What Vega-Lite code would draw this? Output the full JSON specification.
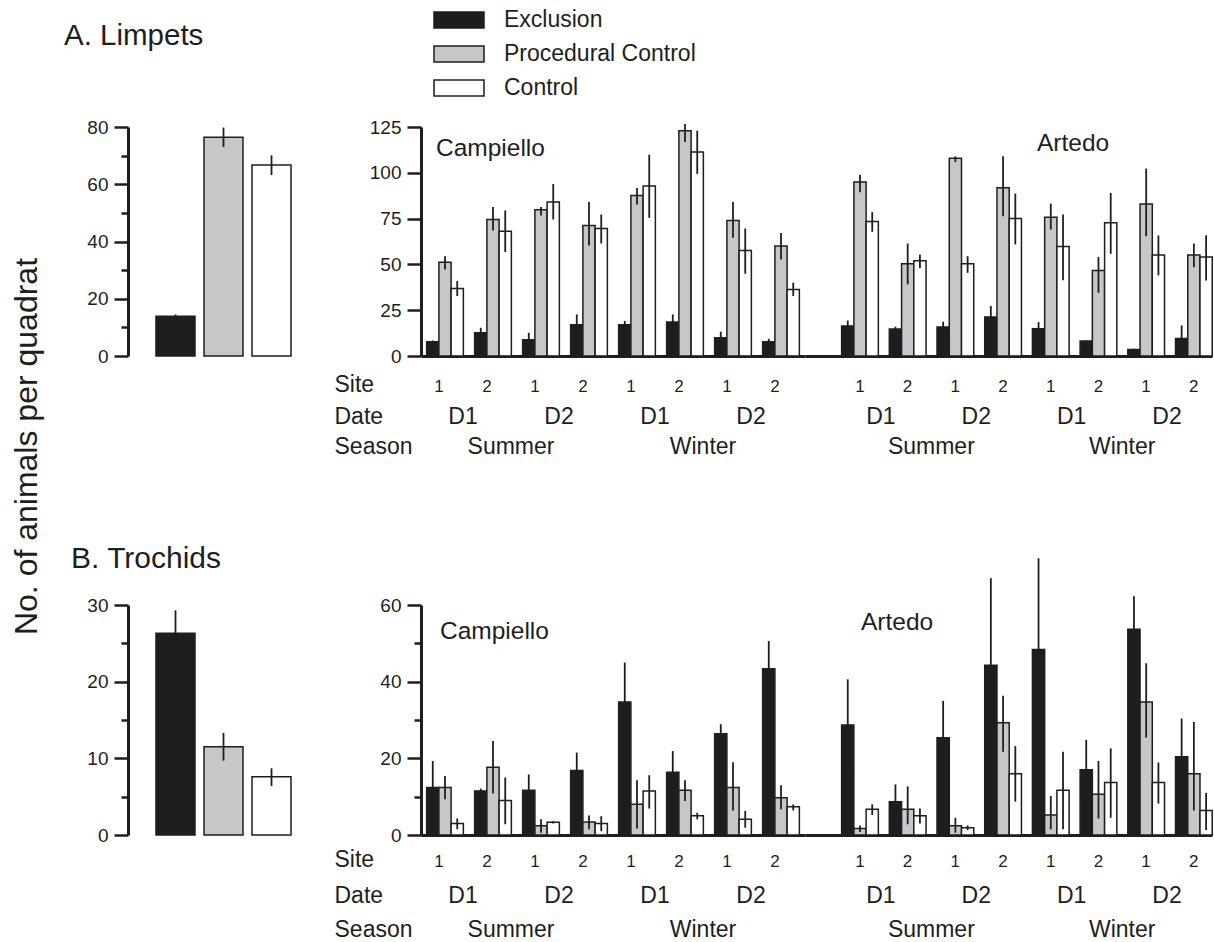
{
  "$schema": "https://vega.github.io/schema/vega-lite/v6.json",
  "background": "white",
  "padding": {"left": 10, "top": 8, "right": 5, "bottom": 0},
  "datasets": {
    "d": [
      {"taxon":"Limpets","loc":"Overall","grp":"all","treat":"Exclusion","mean":13.9,"lo":13.3,"hi":14.5},
      {"taxon":"Limpets","loc":"Overall","grp":"all","treat":"Procedural Control","mean":76.4,"lo":73.0,"hi":79.8},
      {"taxon":"Limpets","loc":"Overall","grp":"all","treat":"Control","mean":66.7,"lo":63.2,"hi":70.1},
      {"taxon":"Trochids","loc":"Overall","grp":"all","treat":"Exclusion","mean":26.3,"lo":23.3,"hi":29.3},
      {"taxon":"Trochids","loc":"Overall","grp":"all","treat":"Procedural Control","mean":11.5,"lo":9.7,"hi":13.3},
      {"taxon":"Trochids","loc":"Overall","grp":"all","treat":"Control","mean":7.6,"lo":6.4,"hi":8.7},

      {"taxon":"Limpets","loc":"Campiello","grp":"Summer-D1-1","treat":"Exclusion","mean":7.8,"lo":7.1,"hi":8.5},
      {"taxon":"Limpets","loc":"Campiello","grp":"Summer-D1-1","treat":"Procedural Control","mean":51.2,"lo":47.2,"hi":54.5},
      {"taxon":"Limpets","loc":"Campiello","grp":"Summer-D1-1","treat":"Control","mean":36.9,"lo":32.7,"hi":40.9},
      {"taxon":"Limpets","loc":"Campiello","grp":"Summer-D1-2","treat":"Exclusion","mean":12.7,"lo":10.0,"hi":15.4},
      {"taxon":"Limpets","loc":"Campiello","grp":"Summer-D1-2","treat":"Procedural Control","mean":74.5,"lo":68.5,"hi":81.4},
      {"taxon":"Limpets","loc":"Campiello","grp":"Summer-D1-2","treat":"Control","mean":68.1,"lo":56.7,"hi":79.4},
      {"taxon":"Limpets","loc":"Campiello","grp":"Summer-D2-1","treat":"Exclusion","mean":8.9,"lo":5.1,"hi":12.7},
      {"taxon":"Limpets","loc":"Campiello","grp":"Summer-D2-1","treat":"Procedural Control","mean":79.8,"lo":76.7,"hi":81.4},
      {"taxon":"Limpets","loc":"Campiello","grp":"Summer-D2-1","treat":"Control","mean":84.1,"lo":74.5,"hi":93.9},
      {"taxon":"Limpets","loc":"Campiello","grp":"Summer-D2-2","treat":"Exclusion","mean":17.1,"lo":11.5,"hi":22.7},
      {"taxon":"Limpets","loc":"Campiello","grp":"Summer-D2-2","treat":"Procedural Control","mean":71.2,"lo":60.3,"hi":84.1},
      {"taxon":"Limpets","loc":"Campiello","grp":"Summer-D2-2","treat":"Control","mean":69.6,"lo":61.4,"hi":77.2},
      {"taxon":"Limpets","loc":"Campiello","grp":"Winter-D1-1","treat":"Exclusion","mean":17.1,"lo":15.1,"hi":19.1},
      {"taxon":"Limpets","loc":"Campiello","grp":"Winter-D1-1","treat":"Procedural Control","mean":87.6,"lo":82.7,"hi":91.7},
      {"taxon":"Limpets","loc":"Campiello","grp":"Winter-D1-1","treat":"Control","mean":92.8,"lo":75.4,"hi":109.9},
      {"taxon":"Limpets","loc":"Campiello","grp":"Winter-D1-2","treat":"Exclusion","mean":18.5,"lo":14.3,"hi":22.7},
      {"taxon":"Limpets","loc":"Campiello","grp":"Winter-D1-2","treat":"Procedural Control","mean":123.0,"lo":116.8,"hi":126.6},
      {"taxon":"Limpets","loc":"Campiello","grp":"Winter-D1-2","treat":"Control","mean":111.4,"lo":99.4,"hi":123.0},
      {"taxon":"Limpets","loc":"Campiello","grp":"Winter-D2-1","treat":"Exclusion","mean":10.0,"lo":6.7,"hi":13.3},
      {"taxon":"Limpets","loc":"Campiello","grp":"Winter-D2-1","treat":"Procedural Control","mean":73.9,"lo":64.5,"hi":84.1},
      {"taxon":"Limpets","loc":"Campiello","grp":"Winter-D2-1","treat":"Control","mean":57.6,"lo":44.9,"hi":69.6},
      {"taxon":"Limpets","loc":"Campiello","grp":"Winter-D2-2","treat":"Exclusion","mean":7.8,"lo":6.2,"hi":9.4},
      {"taxon":"Limpets","loc":"Campiello","grp":"Winter-D2-2","treat":"Procedural Control","mean":60.0,"lo":52.7,"hi":67.2},
      {"taxon":"Limpets","loc":"Campiello","grp":"Winter-D2-2","treat":"Control","mean":36.3,"lo":32.7,"hi":40.0},

      {"taxon":"Limpets","loc":"Artedo","grp":"Summer-D1-1","treat":"Exclusion","mean":16.4,"lo":13.3,"hi":19.4},
      {"taxon":"Limpets","loc":"Artedo","grp":"Summer-D1-1","treat":"Procedural Control","mean":95.0,"lo":89.4,"hi":99.0},
      {"taxon":"Limpets","loc":"Artedo","grp":"Summer-D1-1","treat":"Control","mean":73.4,"lo":67.8,"hi":78.5},
      {"taxon":"Limpets","loc":"Artedo","grp":"Summer-D1-2","treat":"Exclusion","mean":14.7,"lo":13.4,"hi":16.0},
      {"taxon":"Limpets","loc":"Artedo","grp":"Summer-D1-2","treat":"Procedural Control","mean":50.3,"lo":39.1,"hi":61.4},
      {"taxon":"Limpets","loc":"Artedo","grp":"Summer-D1-2","treat":"Control","mean":52.0,"lo":48.1,"hi":55.4},
      {"taxon":"Limpets","loc":"Artedo","grp":"Summer-D2-1","treat":"Exclusion","mean":15.8,"lo":12.9,"hi":18.7},
      {"taxon":"Limpets","loc":"Artedo","grp":"Summer-D2-1","treat":"Procedural Control","mean":107.9,"lo":105.9,"hi":109.0},
      {"taxon":"Limpets","loc":"Artedo","grp":"Summer-D2-1","treat":"Control","mean":50.3,"lo":45.4,"hi":54.5},
      {"taxon":"Limpets","loc":"Artedo","grp":"Summer-D2-2","treat":"Exclusion","mean":21.3,"lo":15.3,"hi":27.3},
      {"taxon":"Limpets","loc":"Artedo","grp":"Summer-D2-2","treat":"Procedural Control","mean":91.8,"lo":76.3,"hi":109.0},
      {"taxon":"Limpets","loc":"Artedo","grp":"Summer-D2-2","treat":"Control","mean":75.0,"lo":60.9,"hi":88.7},
      {"taxon":"Limpets","loc":"Artedo","grp":"Winter-D1-1","treat":"Exclusion","mean":14.9,"lo":11.3,"hi":18.5},
      {"taxon":"Limpets","loc":"Artedo","grp":"Winter-D1-1","treat":"Procedural Control","mean":75.8,"lo":69.0,"hi":83.2},
      {"taxon":"Limpets","loc":"Artedo","grp":"Winter-D1-1","treat":"Control","mean":59.8,"lo":41.4,"hi":77.2},
      {"taxon":"Limpets","loc":"Artedo","grp":"Winter-D1-2","treat":"Exclusion","mean":8.2,"lo":7.9,"hi":8.5},
      {"taxon":"Limpets","loc":"Artedo","grp":"Winter-D1-2","treat":"Procedural Control","mean":46.7,"lo":34.5,"hi":54.1},
      {"taxon":"Limpets","loc":"Artedo","grp":"Winter-D1-2","treat":"Control","mean":72.7,"lo":55.8,"hi":89.0},
      {"taxon":"Limpets","loc":"Artedo","grp":"Winter-D2-1","treat":"Exclusion","mean":3.6,"lo":3.2,"hi":4.0},
      {"taxon":"Limpets","loc":"Artedo","grp":"Winter-D2-1","treat":"Procedural Control","mean":83.0,"lo":65.4,"hi":102.3},
      {"taxon":"Limpets","loc":"Artedo","grp":"Winter-D2-1","treat":"Control","mean":55.1,"lo":44.0,"hi":65.8},
      {"taxon":"Limpets","loc":"Artedo","grp":"Winter-D2-2","treat":"Exclusion","mean":9.6,"lo":2.5,"hi":16.7},
      {"taxon":"Limpets","loc":"Artedo","grp":"Winter-D2-2","treat":"Procedural Control","mean":55.1,"lo":48.5,"hi":61.4},
      {"taxon":"Limpets","loc":"Artedo","grp":"Winter-D2-2","treat":"Control","mean":54.0,"lo":41.2,"hi":65.9},

      {"taxon":"Trochids","loc":"Campiello","grp":"Summer-D1-1","treat":"Exclusion","mean":12.4,"lo":5.4,"hi":19.3},
      {"taxon":"Trochids","loc":"Campiello","grp":"Summer-D1-1","treat":"Procedural Control","mean":12.4,"lo":9.3,"hi":15.4},
      {"taxon":"Trochids","loc":"Campiello","grp":"Summer-D1-1","treat":"Control","mean":3.0,"lo":1.5,"hi":4.3},
      {"taxon":"Trochids","loc":"Campiello","grp":"Summer-D1-2","treat":"Exclusion","mean":11.5,"lo":10.9,"hi":12.1},
      {"taxon":"Trochids","loc":"Campiello","grp":"Summer-D1-2","treat":"Procedural Control","mean":17.7,"lo":10.8,"hi":24.5},
      {"taxon":"Trochids","loc":"Campiello","grp":"Summer-D1-2","treat":"Control","mean":9.0,"lo":2.8,"hi":15.0},
      {"taxon":"Trochids","loc":"Campiello","grp":"Summer-D2-1","treat":"Exclusion","mean":11.7,"lo":7.6,"hi":15.8},
      {"taxon":"Trochids","loc":"Campiello","grp":"Summer-D2-1","treat":"Procedural Control","mean":2.4,"lo":0.6,"hi":4.1},
      {"taxon":"Trochids","loc":"Campiello","grp":"Summer-D2-1","treat":"Control","mean":3.3,"lo":3.0,"hi":3.6},
      {"taxon":"Trochids","loc":"Campiello","grp":"Summer-D2-2","treat":"Exclusion","mean":16.8,"lo":12.1,"hi":21.5},
      {"taxon":"Trochids","loc":"Campiello","grp":"Summer-D2-2","treat":"Procedural Control","mean":3.4,"lo":1.5,"hi":5.1},
      {"taxon":"Trochids","loc":"Campiello","grp":"Summer-D2-2","treat":"Control","mean":3.0,"lo":1.0,"hi":4.9},
      {"taxon":"Trochids","loc":"Campiello","grp":"Winter-D1-1","treat":"Exclusion","mean":34.7,"lo":24.4,"hi":45.0},
      {"taxon":"Trochids","loc":"Campiello","grp":"Winter-D1-1","treat":"Procedural Control","mean":8.0,"lo":1.7,"hi":14.3},
      {"taxon":"Trochids","loc":"Campiello","grp":"Winter-D1-1","treat":"Control","mean":11.5,"lo":6.9,"hi":15.6},
      {"taxon":"Trochids","loc":"Campiello","grp":"Winter-D1-2","treat":"Exclusion","mean":16.4,"lo":10.9,"hi":21.9},
      {"taxon":"Trochids","loc":"Campiello","grp":"Winter-D1-2","treat":"Procedural Control","mean":11.7,"lo":8.9,"hi":14.3},
      {"taxon":"Trochids","loc":"Campiello","grp":"Winter-D1-2","treat":"Control","mean":5.0,"lo":4.1,"hi":5.8},
      {"taxon":"Trochids","loc":"Campiello","grp":"Winter-D2-1","treat":"Exclusion","mean":26.4,"lo":23.9,"hi":28.9},
      {"taxon":"Trochids","loc":"Campiello","grp":"Winter-D2-1","treat":"Procedural Control","mean":12.4,"lo":6.4,"hi":19.0},
      {"taxon":"Trochids","loc":"Campiello","grp":"Winter-D2-1","treat":"Control","mean":4.1,"lo":1.9,"hi":6.3},
      {"taxon":"Trochids","loc":"Campiello","grp":"Winter-D2-2","treat":"Exclusion","mean":43.4,"lo":36.2,"hi":50.6},
      {"taxon":"Trochids","loc":"Campiello","grp":"Winter-D2-2","treat":"Procedural Control","mean":9.7,"lo":6.7,"hi":13.0},
      {"taxon":"Trochids","loc":"Campiello","grp":"Winter-D2-2","treat":"Control","mean":7.4,"lo":6.4,"hi":8.0},

      {"taxon":"Trochids","loc":"Artedo","grp":"Summer-D1-1","treat":"Exclusion","mean":28.7,"lo":16.8,"hi":40.6},
      {"taxon":"Trochids","loc":"Artedo","grp":"Summer-D1-1","treat":"Procedural Control","mean":1.7,"lo":0.8,"hi":2.5},
      {"taxon":"Trochids","loc":"Artedo","grp":"Summer-D1-1","treat":"Control","mean":6.7,"lo":5.2,"hi":8.0},
      {"taxon":"Trochids","loc":"Artedo","grp":"Summer-D1-2","treat":"Exclusion","mean":8.7,"lo":4.2,"hi":13.2},
      {"taxon":"Trochids","loc":"Artedo","grp":"Summer-D1-2","treat":"Procedural Control","mean":6.7,"lo":2.8,"hi":12.7},
      {"taxon":"Trochids","loc":"Artedo","grp":"Summer-D1-2","treat":"Control","mean":5.0,"lo":3.0,"hi":6.9},
      {"taxon":"Trochids","loc":"Artedo","grp":"Summer-D2-1","treat":"Exclusion","mean":25.4,"lo":15.8,"hi":35.0},
      {"taxon":"Trochids","loc":"Artedo","grp":"Summer-D2-1","treat":"Procedural Control","mean":2.4,"lo":0.6,"hi":4.5},
      {"taxon":"Trochids","loc":"Artedo","grp":"Summer-D2-1","treat":"Control","mean":1.9,"lo":1.3,"hi":2.5},
      {"taxon":"Trochids","loc":"Artedo","grp":"Summer-D2-2","treat":"Exclusion","mean":44.3,"lo":21.7,"hi":67.0},
      {"taxon":"Trochids","loc":"Artedo","grp":"Summer-D2-2","treat":"Procedural Control","mean":29.3,"lo":21.7,"hi":36.3},
      {"taxon":"Trochids","loc":"Artedo","grp":"Summer-D2-2","treat":"Control","mean":16.0,"lo":8.7,"hi":23.2},
      {"taxon":"Trochids","loc":"Artedo","grp":"Winter-D1-1","treat":"Exclusion","mean":48.4,"lo":24.6,"hi":72.2},
      {"taxon":"Trochids","loc":"Artedo","grp":"Winter-D1-1","treat":"Procedural Control","mean":5.2,"lo":1.5,"hi":10.2},
      {"taxon":"Trochids","loc":"Artedo","grp":"Winter-D1-1","treat":"Control","mean":11.7,"lo":1.5,"hi":21.7},
      {"taxon":"Trochids","loc":"Artedo","grp":"Winter-D1-2","treat":"Exclusion","mean":17.0,"lo":9.3,"hi":24.8},
      {"taxon":"Trochids","loc":"Artedo","grp":"Winter-D1-2","treat":"Procedural Control","mean":10.6,"lo":4.3,"hi":19.3},
      {"taxon":"Trochids","loc":"Artedo","grp":"Winter-D1-2","treat":"Control","mean":13.7,"lo":4.5,"hi":22.6},
      {"taxon":"Trochids","loc":"Artedo","grp":"Winter-D2-1","treat":"Exclusion","mean":53.7,"lo":45.0,"hi":62.3},
      {"taxon":"Trochids","loc":"Artedo","grp":"Winter-D2-1","treat":"Procedural Control","mean":34.7,"lo":25.4,"hi":44.8},
      {"taxon":"Trochids","loc":"Artedo","grp":"Winter-D2-1","treat":"Control","mean":13.7,"lo":8.2,"hi":18.9},
      {"taxon":"Trochids","loc":"Artedo","grp":"Winter-D2-2","treat":"Exclusion","mean":20.4,"lo":10.4,"hi":30.4},
      {"taxon":"Trochids","loc":"Artedo","grp":"Winter-D2-2","treat":"Procedural Control","mean":16.0,"lo":6.4,"hi":29.5},
      {"taxon":"Trochids","loc":"Artedo","grp":"Winter-D2-2","treat":"Control","mean":6.4,"lo":1.3,"hi":11.0}
    ]
  },
  "data": {"name": "d"},
  "bounds": "flush",
  "columns": 2,
  "spacing": {"row": 249, "column": 102},
  "resolve": {"scale": {"fill": "independent"}, "legend": {"fill": "independent"}},
  "concat": [
    {
      "width": 191, "height": 229,
      "title": {"text": "A. Limpets", "anchor": "start", "frame": "group", "orient": "top", "baseline": "alphabetic", "offset": 43.5, "dx": -64, "fontSize": 29.5},
      "transform": [{"filter": "datum.taxon == 'Limpets' && datum.loc == 'Overall'"}],
      "layer": [
        {"mark": {"type": "bar", "stroke": "#1e1e20", "strokeWidth": 1.5},
         "encoding": {
           "x": {"field": "treat", "type": "nominal", "sort": ["Exclusion","Procedural Control","Control"], "scale": {"paddingInner": 0.1875, "paddingOuter": 0.583}, "axis": {"orient": "bottom", "labels": false, "ticks": false, "title": null, "domain": true}},
           "y": {"field": "mean", "type": "quantitative", "scale": {"domain": [0, 80], "nice": false}, "axis": {"orient": "left", "values": [0,20,40,60,80], "tickSize": 14, "labelPadding": 6, "labelFontSize": 19, "title": "No. of animals per quadrat", "titleX": -102, "titleY": 319, "titleAngle": 270, "titleAlign": "center", "titleBaseline": "middle", "titleFontSize": 32}},
           "fill": {"field": "treat", "type": "nominal", "scale": {"domain": ["Exclusion","Procedural Control","Control"], "range": ["#1e1e20","#c6c7c9","#ffffff"]}, "legend": null}
         }},
        {"mark": {"type": "rule", "color": "#1e1e20", "strokeWidth": 1.8},
         "encoding": {
           "x": {"field": "treat", "type": "nominal", "sort": ["Exclusion","Procedural Control","Control"], "axis": null},
           "y": {"field": "mean", "type": "quantitative", "scale": {"domain": [0, 80], "nice": false}, "axis": {"orient": "left", "values": [10,30,50,70], "tickSize": 7, "labels": false, "domain": false, "title": null}},
           "y2": {"field": "hi"}
         }},
        {"mark": {"type": "rule", "color": "#1e1e20", "strokeWidth": 1.8},
         "encoding": {
           "x": {"field": "treat", "type": "nominal", "sort": ["Exclusion","Procedural Control","Control"], "axis": null},
           "y": {"field": "lo", "type": "quantitative", "scale": {"domain": [0, 80], "nice": false}, "axis": null},
           "y2": {"field": "mean"}
         }}
      ],
      "resolve": {"axis": {"y": "independent"}}
    },
    {
      "bounds": "flush",
      "spacing": 0,
      "resolve": {"scale": {"fill": "independent"}, "legend": {"fill": "independent"}},
      "hconcat": [
        {
          "width": 384, "height": 229,
          "title": {"text": "Campiello", "anchor": "start", "frame": "group", "orient": "top", "baseline": "alphabetic", "offset": -172, "dx": 15, "fontSize": 24.5},
          "transform": [{"filter": "datum.taxon == 'Limpets' && datum.loc == 'Campiello'"}],
          "layer": [
            {"mark": {"type": "bar", "stroke": "#1e1e20", "strokeWidth": 1.5},
             "encoding": {
               "x": {"field": "grp", "type": "nominal", "scale": {"paddingInner": 0.235, "paddingOuter": 0.1175}, "axis": {"orient": "bottom", "title": "Site", "titleX": -87, "titleY": 35, "titleAlign": "left", "titleBaseline": "alphabetic", "titleFontSize": 23, "titleAngle": 0, "labelExpr": "split(datum.label, '-')[2]", "labelAngle": 0, "labelFontSize": 17, "labelBaseline": "alphabetic", "labelPadding": 35, "labelOffset": -6, "labelOverlap": false, "ticks": false, "tickSize": 0, "domain": true}},
               "xOffset": {"field": "treat", "type": "nominal", "sort": ["Exclusion","Procedural Control","Control"], "scale": {"paddingInner": 0, "paddingOuter": 0}},
               "y": {"field": "mean", "type": "quantitative", "scale": {"domain": [0, 125], "nice": false}, "axis": {"orient": "left", "values": [0,25,50,75,100,125], "tickSize": 14, "labelPadding": 6, "labelFontSize": 19, "title": null}},
               "fill": {"field": "treat", "type": "nominal", "scale": {"domain": ["Exclusion","Procedural Control","Control"], "range": ["#1e1e20","#c6c7c9","#ffffff"]},
                 "legend": {"orient": "none", "legendX": 26.5, "legendY": -118.5, "title": null, "padding": 0, "direction": "vertical", "symbolType": "M-3.125,-1H3.125V1H-3.125Z", "symbolSize": 256, "symbolStrokeColor": "#1e1e20", "symbolStrokeWidth": 1.5, "symbolOpacity": 1, "labelFontSize": 23, "labelOffset": 33.5, "labelLimit": 400, "rowPadding": 10, "labelColor": "#1e1e20"}}
             }},
            {"mark": {"type": "rule", "color": "#1e1e20", "strokeWidth": 1.8},
             "encoding": {
               "x": {"field": "grp", "type": "nominal", "scale": {"paddingInner": 0.235, "paddingOuter": 0.1175}, "axis": {"orient": "bottom", "title": "Date", "titleX": -87, "titleY": 67, "titleAlign": "left", "titleBaseline": "alphabetic", "titleFontSize": 23, "titleAngle": 0, "labelExpr": "split(datum.label, '-')[2] == '1' ? split(datum.label, '-')[1] : ''", "labelAngle": 0, "labelFontSize": 23, "labelBaseline": "alphabetic", "labelPadding": 67, "labelOffset": 18, "labelOverlap": false, "ticks": false, "tickSize": 0, "domain": false}},
               "xOffset": {"field": "treat", "type": "nominal", "sort": ["Exclusion","Procedural Control","Control"], "scale": {"paddingInner": 0, "paddingOuter": 0}},
               "y": {"field": "mean", "type": "quantitative", "scale": {"domain": [0, 125], "nice": false}, "axis": null},
               "y2": {"field": "hi"}
             }},
            {"mark": {"type": "rule", "color": "#1e1e20", "strokeWidth": 1.8},
             "encoding": {
               "x": {"field": "grp", "type": "nominal", "scale": {"paddingInner": 0.235, "paddingOuter": 0.1175}, "axis": {"orient": "bottom", "title": "Season", "titleX": -87, "titleY": 97, "titleAlign": "left", "titleBaseline": "alphabetic", "titleFontSize": 23, "titleAngle": 0, "labelExpr": "split(datum.label, '-')[1] == 'D1' && split(datum.label, '-')[2] == '1' ? split(datum.label, '-')[0] : ''", "labelAngle": 0, "labelFontSize": 23, "labelBaseline": "alphabetic", "labelPadding": 97, "labelOffset": 66, "labelOverlap": false, "ticks": false, "tickSize": 0, "domain": false}},
               "xOffset": {"field": "treat", "type": "nominal", "sort": ["Exclusion","Procedural Control","Control"], "scale": {"paddingInner": 0, "paddingOuter": 0}},
               "y": {"field": "lo", "type": "quantitative", "scale": {"domain": [0, 125], "nice": false}, "axis": null},
               "y2": {"field": "mean"}
             }}
          ],
          "resolve": {"axis": {"x": "independent", "y": "independent"}}
        },
        {
          "width": 407, "height": 229,
          "title": {"text": "Artedo", "anchor": "start", "frame": "group", "orient": "top", "baseline": "alphabetic", "offset": -48, "dx": 232, "fontSize": 24.5},
          "transform": [{"filter": "datum.taxon == 'Limpets' && datum.loc == 'Artedo'"}],
          "layer": [
            {"mark": {"type": "bar", "stroke": "#1e1e20", "strokeWidth": 1.5},
             "encoding": {
               "x": {"field": "grp", "type": "nominal", "scale": {"paddingInner": 0.235, "paddingOuter": 0.384, "align": 1}, "axis": {"orient": "bottom", "title": null, "labelExpr": "split(datum.label, '-')[2]", "labelAngle": 0, "labelFontSize": 17, "labelBaseline": "alphabetic", "labelPadding": 35, "labelOffset": 0, "labelOverlap": false, "ticks": false, "tickSize": 0, "domain": true}},
               "xOffset": {"field": "treat", "type": "nominal", "sort": ["Exclusion","Procedural Control","Control"], "scale": {"paddingInner": 0, "paddingOuter": 0}},
               "y": {"field": "mean", "type": "quantitative", "scale": {"domain": [0, 125], "nice": false}, "axis": null},
               "fill": {"field": "treat", "type": "nominal", "scale": {"domain": ["Exclusion","Procedural Control","Control"], "range": ["#1e1e20","#c6c7c9","#ffffff"]}, "legend": null}
             }},
            {"mark": {"type": "rule", "color": "#1e1e20", "strokeWidth": 1.8},
             "encoding": {
               "x": {"field": "grp", "type": "nominal", "scale": {"paddingInner": 0.235, "paddingOuter": 0.384, "align": 1}, "axis": {"orient": "bottom", "title": null, "labelExpr": "split(datum.label, '-')[2] == '1' ? split(datum.label, '-')[1] : ''", "labelAngle": 0, "labelFontSize": 23, "labelBaseline": "alphabetic", "labelPadding": 67, "labelOffset": 21, "labelOverlap": false, "ticks": false, "tickSize": 0, "domain": false}},
               "xOffset": {"field": "treat", "type": "nominal", "sort": ["Exclusion","Procedural Control","Control"], "scale": {"paddingInner": 0, "paddingOuter": 0}},
               "y": {"field": "mean", "type": "quantitative", "scale": {"domain": [0, 125], "nice": false}, "axis": null},
               "y2": {"field": "hi"}
             }},
            {"mark": {"type": "rule", "color": "#1e1e20", "strokeWidth": 1.8},
             "encoding": {
               "x": {"field": "grp", "type": "nominal", "scale": {"paddingInner": 0.235, "paddingOuter": 0.384, "align": 1}, "axis": {"orient": "bottom", "title": null, "labelExpr": "split(datum.label, '-')[1] == 'D1' && split(datum.label, '-')[2] == '1' ? split(datum.label, '-')[0] : ''", "labelAngle": 0, "labelFontSize": 23, "labelBaseline": "alphabetic", "labelPadding": 97, "labelOffset": 71.5, "labelOverlap": false, "ticks": false, "tickSize": 0, "domain": false}},
               "xOffset": {"field": "treat", "type": "nominal", "sort": ["Exclusion","Procedural Control","Control"], "scale": {"paddingInner": 0, "paddingOuter": 0}},
               "y": {"field": "lo", "type": "quantitative", "scale": {"domain": [0, 125], "nice": false}, "axis": null},
               "y2": {"field": "mean"}
             }}
          ],
          "resolve": {"axis": {"x": "independent", "y": "independent"}}
        }
      ]
    },
    {
      "width": 191, "height": 230,
      "title": {"text": "B. Trochids", "anchor": "start", "frame": "group", "orient": "top", "baseline": "alphabetic", "offset": -2.2, "dx": -57, "fontSize": 30},
      "transform": [{"filter": "datum.taxon == 'Trochids' && datum.loc == 'Overall'"}],
      "layer": [
        {"mark": {"type": "bar", "stroke": "#1e1e20", "strokeWidth": 1.5},
         "encoding": {
           "x": {"field": "treat", "type": "nominal", "sort": ["Exclusion","Procedural Control","Control"], "scale": {"paddingInner": 0.1875, "paddingOuter": 0.583}, "axis": {"orient": "bottom", "labels": false, "ticks": false, "title": null, "domain": true}},
           "y": {"field": "mean", "type": "quantitative", "scale": {"domain": [0, 30], "nice": false}, "axis": {"orient": "left", "values": [0,10,20,30], "tickSize": 14, "labelPadding": 6, "labelFontSize": 19, "title": null}},
           "fill": {"field": "treat", "type": "nominal", "scale": {"domain": ["Exclusion","Procedural Control","Control"], "range": ["#1e1e20","#c6c7c9","#ffffff"]}, "legend": null}
         }},
        {"mark": {"type": "rule", "color": "#1e1e20", "strokeWidth": 1.8},
         "encoding": {
           "x": {"field": "treat", "type": "nominal", "sort": ["Exclusion","Procedural Control","Control"], "axis": null},
           "y": {"field": "mean", "type": "quantitative", "scale": {"domain": [0, 30], "nice": false}, "axis": {"orient": "left", "values": [5,15,25], "tickSize": 7, "labels": false, "domain": false, "title": null}},
           "y2": {"field": "hi"}
         }},
        {"mark": {"type": "rule", "color": "#1e1e20", "strokeWidth": 1.8},
         "encoding": {
           "x": {"field": "treat", "type": "nominal", "sort": ["Exclusion","Procedural Control","Control"], "axis": null},
           "y": {"field": "lo", "type": "quantitative", "scale": {"domain": [0, 30], "nice": false}, "axis": null},
           "y2": {"field": "mean"}
         }}
      ],
      "resolve": {"axis": {"y": "independent"}}
    },
    {
      "bounds": "flush",
      "spacing": 0,
      "resolve": {"scale": {"fill": "independent"}, "legend": {"fill": "independent"}},
      "hconcat": [
        {
          "width": 384, "height": 230,
          "title": {"text": "Campiello", "anchor": "start", "frame": "group", "orient": "top", "baseline": "alphabetic", "offset": -67.5, "dx": 19, "fontSize": 24.5},
          "transform": [{"filter": "datum.taxon == 'Trochids' && datum.loc == 'Campiello'"}],
          "layer": [
            {"mark": {"type": "bar", "stroke": "#1e1e20", "strokeWidth": 1.5},
             "encoding": {
               "x": {"field": "grp", "type": "nominal", "scale": {"paddingInner": 0.235, "paddingOuter": 0.1175}, "axis": {"orient": "bottom", "title": "Site", "titleX": -87, "titleY": 31, "titleAlign": "left", "titleBaseline": "alphabetic", "titleFontSize": 23, "titleAngle": 0, "labelExpr": "split(datum.label, '-')[2]", "labelAngle": 0, "labelFontSize": 17, "labelBaseline": "alphabetic", "labelPadding": 31, "labelOffset": -6, "labelOverlap": false, "ticks": false, "tickSize": 0, "domain": true}},
               "xOffset": {"field": "treat", "type": "nominal", "sort": ["Exclusion","Procedural Control","Control"], "scale": {"paddingInner": 0, "paddingOuter": 0}},
               "y": {"field": "mean", "type": "quantitative", "scale": {"domain": [0, 60], "nice": false}, "axis": {"orient": "left", "values": [0,20,40,60], "tickSize": 14, "labelPadding": 6, "labelFontSize": 19, "title": null}},
               "fill": {"field": "treat", "type": "nominal", "scale": {"domain": ["Exclusion","Procedural Control","Control"], "range": ["#1e1e20","#c6c7c9","#ffffff"]}, "legend": null}
             }},
            {"mark": {"type": "rule", "color": "#1e1e20", "strokeWidth": 1.8},
             "encoding": {
               "x": {"field": "grp", "type": "nominal", "scale": {"paddingInner": 0.235, "paddingOuter": 0.1175}, "axis": {"orient": "bottom", "title": "Date", "titleX": -87, "titleY": 67, "titleAlign": "left", "titleBaseline": "alphabetic", "titleFontSize": 23, "titleAngle": 0, "labelExpr": "split(datum.label, '-')[2] == '1' ? split(datum.label, '-')[1] : ''", "labelAngle": 0, "labelFontSize": 23, "labelBaseline": "alphabetic", "labelPadding": 67, "labelOffset": 18, "labelOverlap": false, "ticks": false, "tickSize": 0, "domain": false}},
               "xOffset": {"field": "treat", "type": "nominal", "sort": ["Exclusion","Procedural Control","Control"], "scale": {"paddingInner": 0, "paddingOuter": 0}},
               "y": {"field": "mean", "type": "quantitative", "scale": {"domain": [0, 60], "nice": false}, "axis": {"orient": "left", "values": [10,30,50], "tickSize": 7, "labels": false, "domain": false, "title": null}},
               "y2": {"field": "hi"}
             }},
            {"mark": {"type": "rule", "color": "#1e1e20", "strokeWidth": 1.8},
             "encoding": {
               "x": {"field": "grp", "type": "nominal", "scale": {"paddingInner": 0.235, "paddingOuter": 0.1175}, "axis": {"orient": "bottom", "title": "Season", "titleX": -87, "titleY": 101, "titleAlign": "left", "titleBaseline": "alphabetic", "titleFontSize": 23, "titleAngle": 0, "labelExpr": "split(datum.label, '-')[1] == 'D1' && split(datum.label, '-')[2] == '1' ? split(datum.label, '-')[0] : ''", "labelAngle": 0, "labelFontSize": 23, "labelBaseline": "alphabetic", "labelPadding": 101, "labelOffset": 66, "labelOverlap": false, "ticks": false, "tickSize": 0, "domain": false}},
               "xOffset": {"field": "treat", "type": "nominal", "sort": ["Exclusion","Procedural Control","Control"], "scale": {"paddingInner": 0, "paddingOuter": 0}},
               "y": {"field": "lo", "type": "quantitative", "scale": {"domain": [0, 60], "nice": false}, "axis": null},
               "y2": {"field": "mean"}
             }}
          ],
          "resolve": {"axis": {"x": "independent", "y": "independent"}}
        },
        {
          "width": 407, "height": 230,
          "title": {"text": "Artedo", "anchor": "start", "frame": "group", "orient": "top", "baseline": "alphabetic", "offset": -97, "dx": 56, "fontSize": 24.5},
          "transform": [{"filter": "datum.taxon == 'Trochids' && datum.loc == 'Artedo'"}],
          "layer": [
            {"mark": {"type": "bar", "stroke": "#1e1e20", "strokeWidth": 1.5},
             "encoding": {
               "x": {"field": "grp", "type": "nominal", "scale": {"paddingInner": 0.235, "paddingOuter": 0.384, "align": 1}, "axis": {"orient": "bottom", "title": null, "labelExpr": "split(datum.label, '-')[2]", "labelAngle": 0, "labelFontSize": 17, "labelBaseline": "alphabetic", "labelPadding": 31, "labelOffset": 0, "labelOverlap": false, "ticks": false, "tickSize": 0, "domain": true}},
               "xOffset": {"field": "treat", "type": "nominal", "sort": ["Exclusion","Procedural Control","Control"], "scale": {"paddingInner": 0, "paddingOuter": 0}},
               "y": {"field": "mean", "type": "quantitative", "scale": {"domain": [0, 60], "nice": false}, "axis": null},
               "fill": {"field": "treat", "type": "nominal", "scale": {"domain": ["Exclusion","Procedural Control","Control"], "range": ["#1e1e20","#c6c7c9","#ffffff"]}, "legend": null}
             }},
            {"mark": {"type": "rule", "color": "#1e1e20", "strokeWidth": 1.8},
             "encoding": {
               "x": {"field": "grp", "type": "nominal", "scale": {"paddingInner": 0.235, "paddingOuter": 0.384, "align": 1}, "axis": {"orient": "bottom", "title": null, "labelExpr": "split(datum.label, '-')[2] == '1' ? split(datum.label, '-')[1] : ''", "labelAngle": 0, "labelFontSize": 23, "labelBaseline": "alphabetic", "labelPadding": 67, "labelOffset": 21, "labelOverlap": false, "ticks": false, "tickSize": 0, "domain": false}},
               "xOffset": {"field": "treat", "type": "nominal", "sort": ["Exclusion","Procedural Control","Control"], "scale": {"paddingInner": 0, "paddingOuter": 0}},
               "y": {"field": "mean", "type": "quantitative", "scale": {"domain": [0, 60], "nice": false}, "axis": null},
               "y2": {"field": "hi"}
             }},
            {"mark": {"type": "rule", "color": "#1e1e20", "strokeWidth": 1.8},
             "encoding": {
               "x": {"field": "grp", "type": "nominal", "scale": {"paddingInner": 0.235, "paddingOuter": 0.384, "align": 1}, "axis": {"orient": "bottom", "title": null, "labelExpr": "split(datum.label, '-')[1] == 'D1' && split(datum.label, '-')[2] == '1' ? split(datum.label, '-')[0] : ''", "labelAngle": 0, "labelFontSize": 23, "labelBaseline": "alphabetic", "labelPadding": 101, "labelOffset": 71.5, "labelOverlap": false, "ticks": false, "tickSize": 0, "domain": false}},
               "xOffset": {"field": "treat", "type": "nominal", "sort": ["Exclusion","Procedural Control","Control"], "scale": {"paddingInner": 0, "paddingOuter": 0}},
               "y": {"field": "lo", "type": "quantitative", "scale": {"domain": [0, 60], "nice": false}, "axis": null},
               "y2": {"field": "mean"}
             }}
          ],
          "resolve": {"axis": {"x": "independent", "y": "independent"}}
        }
      ]
    }
  ],
  "config": {
    "font": "Liberation Sans",
    "view": {"stroke": null},
    "axis": {"grid": false, "domainColor": "#1e1e20", "tickColor": "#1e1e20", "labelColor": "#1e1e20", "titleColor": "#1e1e20", "domainWidth": 3, "tickWidth": 2.5, "titleFontWeight": "normal"},
    "title": {"color": "#1e1e20", "fontWeight": "normal"},
    "legend": {"labelColor": "#1e1e20"}
  }
}
